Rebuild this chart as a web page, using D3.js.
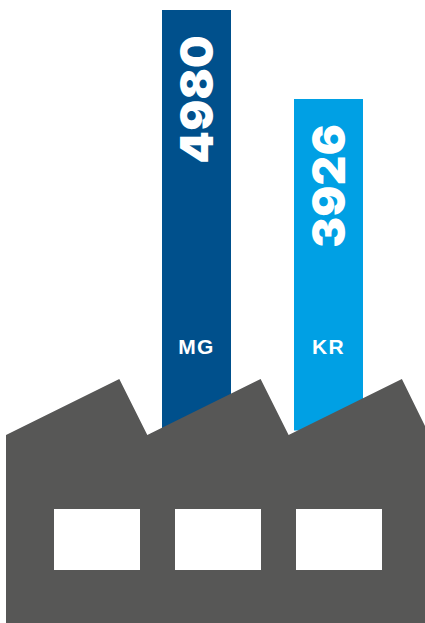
<!DOCTYPE html>
<html>
<head>
<meta charset="utf-8">
<script src="https://cdn.jsdelivr.net/npm/d3@7/dist/d3.min.js"></script>
<style>
html,body{margin:0;padding:0;background:#fff;overflow:hidden}
svg{display:block}
.value{font-family:Inter,"Liberation Sans",sans-serif;font-weight:900;fill:#fff}
.code{font-family:"Liberation Sans",sans-serif;font-weight:700;fill:#fff}
</style>
</head>
<body>
<script>
// Two chimney bars rising out of a factory silhouette
const categories = ["MG", "KR"];
const values = [4980, 3926];
const colours = ["#00508c", "#00a0e4"];

const W = 425, H = 623;
const svg = d3.select("body").append("svg").attr("width", W).attr("height", H);

const x = d3.scaleBand().domain(categories).range([162, 363]).paddingInner(63 / 132);
const y = d3.scaleLinear().domain([0, 4980]).range([430.5, 10]);

// Chimneys
svg.selectAll("rect.bar").data(categories).join("rect")
  .attr("class", "bar")
  .attr("x", d => x(d))
  .attr("width", x.bandwidth())
  .attr("y", (d, i) => y(values[i]))
  .attr("height", (d, i) => y(0) - y(values[i]))
  .attr("fill", (d, i) => colours[i]);

// Values, rotated and hanging just below each chimney top
svg.selectAll("text.value").data(categories).join("text")
  .attr("class", "value")
  .attr("text-anchor", "end")
  .attr("font-size", 46)
  .attr("letter-spacing", 0.3)
  .attr("transform", (d, i) => `translate(${x(d) + x.bandwidth() / 2 + 16.5},${y(values[i]) + 25}) rotate(-90)`)
  .text((d, i) => values[i]);

// Category codes
svg.selectAll("text.code").data(categories).join("text")
  .attr("class", "code")
  .attr("text-anchor", "middle")
  .attr("font-size", 21)
  .attr("letter-spacing", 1.4)
  .attr("x", d => x(d) + x.bandwidth() / 2)
  .attr("y", 353.5)
  .text(d => d);

// Factory body with a saw-tooth roof
const roofLeft = 6, toothStep = 141.3, toothRun = 113.3, ridge = 379, eave = 435;
const outline = [[roofLeft, H]];
d3.range(3).forEach(i => {
  const start = roofLeft + i * toothStep;
  outline.push([start, eave], [start + toothRun, ridge]);
});
outline.push([W, 426], [W, H]);
svg.append("path")
  .attr("d", d3.line()(outline) + "Z")
  .attr("fill", "#575756");

// Windows
svg.selectAll("rect.window").data(d3.range(3)).join("rect")
  .attr("class", "window")
  .attr("x", i => 54 + i * 121)
  .attr("y", 509)
  .attr("width", 86)
  .attr("height", 61)
  .attr("fill", "#fff");
</script>
</body>
</html>
